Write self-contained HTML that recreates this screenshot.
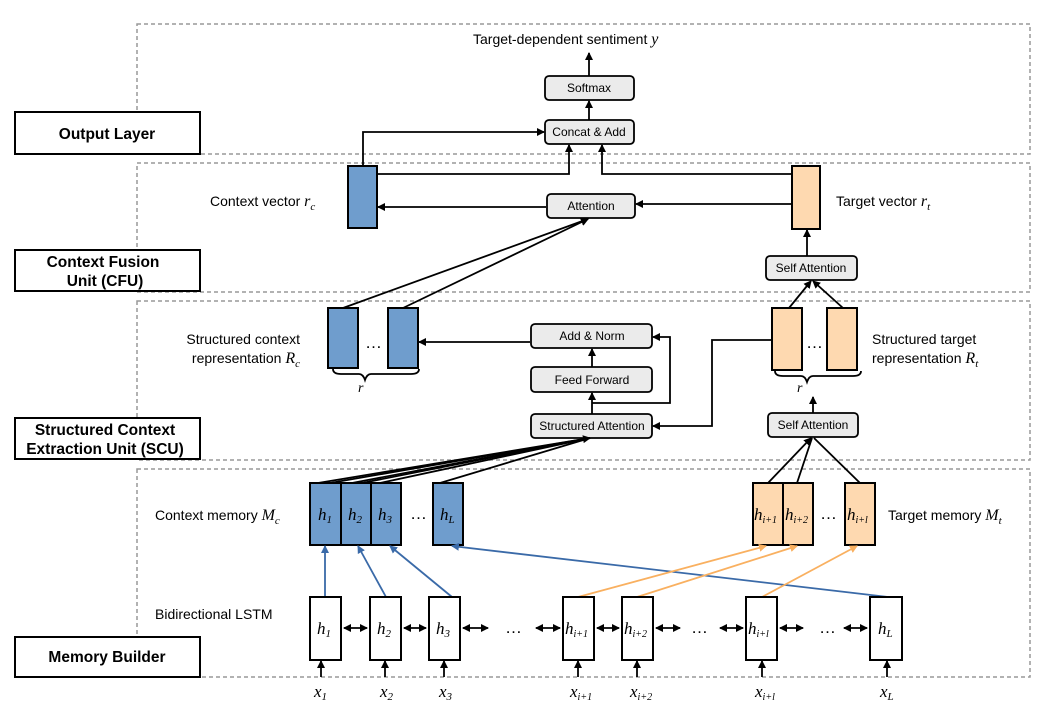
<!DOCTYPE html>
<html><head><meta charset="utf-8"><style>
html,body{margin:0;padding:0;background:#fff;}
svg{display:block;font-family:"Liberation Sans",sans-serif;}
.b{fill:#ebebeb;stroke:#000;stroke-width:1.8;}
.bt{font-size:12px;text-anchor:middle;}
.l{stroke:#000;stroke-width:1.8;fill:none;}
.d{stroke:#999;stroke-width:1.5;stroke-dasharray:4,3;fill:none;}
.lab{fill:#fff;stroke:#000;stroke-width:2;}
.lt{font-size:15.5px;font-weight:bold;text-anchor:middle;}
.t{font-size:14px;}
.e{font-size:17px;}
.i{font-family:"Liberation Serif",serif;font-style:italic;}
.blue{fill:#6f9dcd;stroke:#000;stroke-width:2;}
.or{fill:#fed9b0;stroke:#000;stroke-width:2;}
.w{fill:#fff;stroke:#000;stroke-width:2;}
</style></head><body>
<svg width="1050" height="722" viewBox="0 0 1050 722">
<defs>
<marker id="a" markerWidth="8" markerHeight="8" refX="7" refY="4" orient="auto" markerUnits="userSpaceOnUse"><path d="M0,0 L8,4 L0,8z" fill="#000"/></marker>
<marker id="as" markerWidth="8" markerHeight="8" refX="1" refY="4" orient="auto" markerUnits="userSpaceOnUse"><path d="M8,0 L0,4 L8,8z" fill="#000"/></marker>
<marker id="ab" markerWidth="8" markerHeight="8" refX="7" refY="4" orient="auto" markerUnits="userSpaceOnUse"><path d="M0,0 L8,4 L0,8z" fill="#3a6aa8"/></marker>
<marker id="ao" markerWidth="8" markerHeight="8" refX="7" refY="4" orient="auto" markerUnits="userSpaceOnUse"><path d="M0,0 L8,4 L0,8z" fill="#f9b060"/></marker>
</defs>
<rect class="d" x="137" y="24" width="893" height="130"/>
<rect class="d" x="137" y="163" width="893" height="129"/>
<rect class="d" x="137" y="301" width="893" height="159"/>
<rect class="d" x="137" y="469" width="893" height="208"/>
<rect class="lab" x="15" y="112" width="185" height="42"/>
<text class="lt" x="107" y="139">Output Layer</text>
<rect class="lab" x="15" y="250" width="185" height="41"/>
<text class="lt" x="103" y="267">Context Fusion</text><text class="lt" x="105" y="286">Unit (CFU)</text>
<rect class="lab" x="15" y="418" width="185" height="41"/>
<text class="lt" x="105" y="435">Structured Context</text><text class="lt" x="105" y="454">Extraction Unit (SCU)</text>
<rect class="lab" x="15" y="637" width="185" height="40"/>
<text class="lt" x="107" y="662">Memory Builder</text>

<text class="t" x="473" y="44">Target-dependent  sentiment <tspan class="i" font-size="16">y</tspan></text>
<rect class="b" x="545" y="76" width="89" height="24" rx="4"/><text class="bt" x="589" y="92">Softmax</text>
<rect class="b" x="545" y="120" width="89" height="24" rx="4"/><text class="bt" x="589" y="136">Concat &amp; Add</text>
<line class="l" x1="589" y1="76" x2="589" y2="53" marker-end="url(#a)"/>
<line class="l" x1="589" y1="120" x2="589" y2="101" marker-end="url(#a)"/>
<polyline class="l" points="363,165 363,132 544,132" marker-end="url(#a)"/>
<polyline class="l" points="377,174 569,174 569,145" marker-end="url(#a)"/>
<polyline class="l" points="792,174 602,174 602,145" marker-end="url(#a)"/>

<rect class="blue" x="348" y="166" width="29" height="62"/>
<rect class="or" x="792" y="166" width="28" height="63"/>
<text class="t" x="210" y="206">Context vector <tspan class="i" font-size="16">r</tspan><tspan class="i" font-size="11" dy="4">c</tspan></text>
<text class="t" x="836" y="206">Target vector <tspan class="i" font-size="16">r</tspan><tspan class="i" font-size="11" dy="4">t</tspan></text>
<rect class="b" x="547" y="194" width="88" height="24" rx="4"/><text class="bt" x="591" y="210">Attention</text>
<line class="l" x1="546" y1="207" x2="378" y2="207" marker-end="url(#a)"/>
<line class="l" x1="792" y1="204" x2="636" y2="204" marker-end="url(#a)"/>
<rect class="b" x="766" y="256" width="91" height="24" rx="4"/><text class="bt" x="811" y="272">Self Attention</text>
<line class="l" x1="807" y1="256" x2="807" y2="230" marker-end="url(#a)"/>
<line class="l" x1="343" y1="308" x2="588" y2="219" marker-end="url(#a)"/>
<line class="l" x1="403" y1="308" x2="588" y2="219" marker-end="url(#a)"/>

<rect class="blue" x="328" y="308" width="30" height="60"/>
<rect class="blue" x="388" y="308" width="30" height="60"/>
<text class="e" x="365" y="348">…</text>
<path class="l" stroke-width="1.3" d="M333,369 q0,5 8,5 h18 q4,0 6,6 q2,-6 6,-6 h40 q8,0 8,-5"/>
<text class="t i" x="358" y="392">r</text>
<rect class="or" x="772" y="308" width="30" height="62"/>
<rect class="or" x="827" y="308" width="30" height="62"/>
<text class="e" x="806" y="348">…</text>
<path class="l" stroke-width="1.3" d="M775,371 q0,5 8,5 h18 q4,0 6,6 q2,-6 6,-6 h40 q8,0 8,-5"/>
<text class="t i" x="797" y="392">r</text>
<text class="t" x="300" y="344" text-anchor="end">Structured context</text>
<text class="t" x="300" y="363" text-anchor="end">representation <tspan class="i" font-size="16">R</tspan><tspan class="i" font-size="11" dy="4">c</tspan></text>
<text class="t" x="872" y="344">Structured target</text>
<text class="t" x="872" y="363">representation <tspan class="i" font-size="16">R</tspan><tspan class="i" font-size="11" dy="4">t</tspan></text>
<rect class="b" x="531" y="324" width="121" height="24" rx="4"/><text class="bt" x="592" y="340">Add &amp; Norm</text>
<rect class="b" x="531" y="367" width="121" height="25" rx="4"/><text class="bt" x="592" y="384">Feed Forward</text>
<rect class="b" x="531" y="414" width="121" height="24" rx="4"/><text class="bt" x="592" y="430">Structured Attention</text>
<line class="l" x1="530" y1="342" x2="419" y2="342" marker-end="url(#a)"/>
<line class="l" x1="592" y1="367" x2="592" y2="349" marker-end="url(#a)"/>
<line class="l" x1="592" y1="414" x2="592" y2="393" marker-end="url(#a)"/>
<polyline class="l" points="592,403 670,403 670,337 653,337" marker-end="url(#a)"/>
<polyline class="l" points="772,340 712,340 712,426 653,426" marker-end="url(#a)"/>
<rect class="b" x="768" y="413" width="90" height="24" rx="4"/><text class="bt" x="813" y="429">Self Attention</text>
<line class="l" x1="813" y1="413" x2="813" y2="397" marker-end="url(#a)"/>
<line class="l" x1="789" y1="308" x2="811" y2="281" marker-end="url(#a)"/>
<line class="l" x1="843" y1="308" x2="813" y2="281" marker-end="url(#a)"/>

<line class="l" x1="318" y1="483" x2="590" y2="438" marker-end="url(#a)"/>
<line class="l" x1="330" y1="483" x2="590" y2="438"/>
<line class="l" x1="352" y1="483" x2="590" y2="438"/>
<line class="l" x1="362" y1="483" x2="590" y2="438"/>
<line class="l" x1="380" y1="483" x2="590" y2="438"/>
<line class="l" x1="440" y1="483" x2="590" y2="438"/>
<line class="l" x1="768" y1="483" x2="811" y2="438" marker-end="url(#a)"/>
<line class="l" x1="797" y1="483" x2="812" y2="438"/>
<line class="l" x1="860" y1="483" x2="814" y2="438"/>
<rect class="blue" x="310" y="483" width="31" height="62"/>
<rect class="blue" x="341" y="483" width="30" height="62"/>
<rect class="blue" x="371" y="483" width="30" height="62"/>
<rect class="blue" x="433" y="483" width="30" height="62"/>
<text class="e" x="410" y="519">…</text>
<rect class="or" x="753" y="483" width="30" height="62"/>
<rect class="or" x="783" y="483" width="30" height="62"/>
<rect class="or" x="845" y="483" width="30" height="62"/>
<text class="e" x="820" y="519">…</text>
<g class="i" font-size="17">
<text x="318" y="520">h<tspan font-size="11" dy="3">1</tspan></text>
<text x="348" y="520">h<tspan font-size="11" dy="3">2</tspan></text>
<text x="378" y="520">h<tspan font-size="11" dy="3">3</tspan></text>
<text x="440" y="520">h<tspan font-size="11" dy="3">L</tspan></text>
<text x="754" y="520">h<tspan font-size="10" dy="3">i+1</tspan></text>
<text x="785" y="520">h<tspan font-size="10" dy="3">i+2</tspan></text>
<text x="847" y="520">h<tspan font-size="10" dy="3">i+l</tspan></text>
</g>
<text class="t" x="155" y="520">Context memory <tspan class="i" font-size="16">M</tspan><tspan class="i" font-size="11" dy="4">c</tspan></text>
<text class="t" x="888" y="520">Target memory <tspan class="i" font-size="16">M</tspan><tspan class="i" font-size="11" dy="4">t</tspan></text>
<text class="t" x="155" y="619">Bidirectional LSTM</text>

<g stroke="#3a6aa8" stroke-width="1.8">
<line x1="325" y1="597" x2="325" y2="546" marker-end="url(#ab)"/>
<line x1="386" y1="597" x2="358" y2="546" marker-end="url(#ab)"/>
<line x1="452" y1="597" x2="390" y2="546" marker-end="url(#ab)"/>
<line x1="888" y1="597" x2="452" y2="546" marker-end="url(#ab)"/>
</g>
<g stroke="#f9b060" stroke-width="1.8">
<line x1="578" y1="597" x2="766" y2="546" marker-end="url(#ao)"/>
<line x1="637" y1="597" x2="797" y2="546" marker-end="url(#ao)"/>
<line x1="762" y1="597" x2="857" y2="546" marker-end="url(#ao)"/>
</g>
<g>
<rect class="w" x="310" y="597" width="31" height="63"/>
<rect class="w" x="370" y="597" width="31" height="63"/>
<rect class="w" x="429" y="597" width="31" height="63"/>
<rect class="w" x="563" y="597" width="31" height="63"/>
<rect class="w" x="622" y="597" width="31" height="63"/>
<rect class="w" x="746" y="597" width="31" height="63"/>
<rect class="w" x="870" y="597" width="32" height="63"/>
</g>
<g class="i" font-size="17">
<text x="317" y="634">h<tspan font-size="11" dy="3">1</tspan></text>
<text x="377" y="634">h<tspan font-size="11" dy="3">2</tspan></text>
<text x="436" y="634">h<tspan font-size="11" dy="3">3</tspan></text>
<text x="565" y="634">h<tspan font-size="10" dy="3">i+1</tspan></text>
<text x="624" y="634">h<tspan font-size="10" dy="3">i+2</tspan></text>
<text x="748" y="634">h<tspan font-size="10" dy="3">i+l</tspan></text>
<text x="878" y="634">h<tspan font-size="11" dy="3">L</tspan></text>
</g>
<g class="l">
<line x1="344" y1="628" x2="367" y2="628" marker-start="url(#as)" marker-end="url(#a)"/>
<line x1="404" y1="628" x2="426" y2="628" marker-start="url(#as)" marker-end="url(#a)"/>
<line x1="463" y1="628" x2="488" y2="628" marker-start="url(#as)" marker-end="url(#a)"/>
<line x1="536" y1="628" x2="560" y2="628" marker-start="url(#as)" marker-end="url(#a)"/>
<line x1="597" y1="628" x2="619" y2="628" marker-start="url(#as)" marker-end="url(#a)"/>
<line x1="656" y1="628" x2="680" y2="628" marker-start="url(#as)" marker-end="url(#a)"/>
<line x1="720" y1="628" x2="743" y2="628" marker-start="url(#as)" marker-end="url(#a)"/>
<line x1="780" y1="628" x2="803" y2="628" marker-start="url(#as)" marker-end="url(#a)"/>
<line x1="844" y1="628" x2="867" y2="628" marker-start="url(#as)" marker-end="url(#a)"/>
</g>
<text class="e" x="505" y="633">…</text>
<text class="e" x="691" y="633">…</text>
<text class="e" x="819" y="633">…</text>
<g class="l">
<line x1="321" y1="677" x2="321" y2="661" marker-end="url(#a)"/>
<line x1="385" y1="677" x2="385" y2="661" marker-end="url(#a)"/>
<line x1="444" y1="677" x2="444" y2="661" marker-end="url(#a)"/>
<line x1="578" y1="677" x2="578" y2="661" marker-end="url(#a)"/>
<line x1="637" y1="677" x2="637" y2="661" marker-end="url(#a)"/>
<line x1="762" y1="677" x2="762" y2="661" marker-end="url(#a)"/>
<line x1="887" y1="677" x2="887" y2="661" marker-end="url(#a)"/>
</g>
<g class="i" font-size="17">
<text x="314" y="697">x<tspan font-size="11" dy="3">1</tspan></text>
<text x="380" y="697">x<tspan font-size="11" dy="3">2</tspan></text>
<text x="439" y="697">x<tspan font-size="11" dy="3">3</tspan></text>
<text x="570" y="697">x<tspan font-size="10" dy="3">i+1</tspan></text>
<text x="630" y="697">x<tspan font-size="10" dy="3">i+2</tspan></text>
<text x="755" y="697">x<tspan font-size="10" dy="3">i+l</tspan></text>
<text x="880" y="697">x<tspan font-size="11" dy="3">L</tspan></text>
</g>
</svg>
</body></html>
